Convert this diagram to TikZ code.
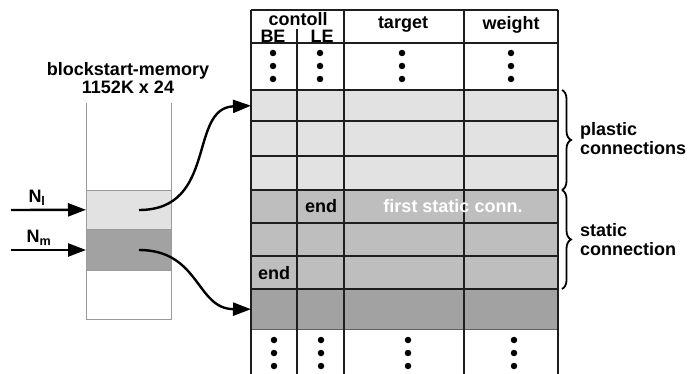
\documentclass[tikz,border=0pt]{standalone}
\usepackage{fontspec}
\setmainfont{Liberation Sans}
\usetikzlibrary{arrows.meta,decorations.pathreplacing}
\definecolor{lightg}{HTML}{E2E2E2}
\definecolor{midg}{HTML}{BEBEBE}
\definecolor{darkg}{HTML}{A2A2A2}
\definecolor{gridc}{HTML}{1E1E1E}
\definecolor{memline}{HTML}{9A9A9A}
\begin{document}
\begin{tikzpicture}[x=1pt,y=-1pt,
  font=\bfseries\fontsize{18}{19}\selectfont,
  rowbox/.style={minimum width=307pt, inner sep=0pt, anchor=north west, draw=none},
  grid/.style={draw=gridc, line width=1.6pt},
  memside/.style={draw=memline, line width=0.9pt},
  bigarrow/.style={line width=2.4pt, -{Triangle[length=18pt,width=13pt]}},
  dotc/.style={circle, fill=black, inner sep=0pt, minimum size=6.5pt},
  brc/.style={decorate, decoration={brace, amplitude=9pt}, line width=1.8pt},
  lbl/.style={inner sep=0pt}
]
\useasboundingbox (0,0) rectangle (695,374);
\fill[white] (0,0) rectangle (695,374);

% ---- table rows
\node[rowbox, fill=lightg, minimum height=31pt] (r1) at (251,90) {};
\node[rowbox, fill=lightg, minimum height=35pt] (r2) at (251,121) {};
\node[rowbox, fill=lightg, minimum height=34pt] (r3) at (251,156) {};
\node[rowbox, fill=midg, minimum height=33pt] (r4) at (251,190) {};
\node[rowbox, fill=midg, minimum height=33pt] (r5) at (251,223) {};
\node[rowbox, fill=midg, minimum height=33pt] (r6) at (251,256) {};
\node[rowbox, fill=darkg, minimum height=40pt] (r7) at (251,289) {};
\draw[draw=gridc!70, line width=0.8pt] (r7.south west) -- (r7.south east);

% ---- grid lines
\foreach \yy in {10,43,90,121,156,190,223,256,289}
  \draw[grid] (251,\yy) -- (558,\yy);
\foreach \xx in {251,344,464,558}
  \draw[grid] (\xx,10) -- (\xx,374);
\draw[grid] (297,29) -- (297,374);

% ---- header
\node[lbl] (hc) at (298,19) {contoll};
\node[lbl] (hbe) at (273,36) {BE};
\node[lbl] (hle) at (322,36) {LE};
\node[lbl] (ht) at (403,25) {target};
\node[lbl] (hw) at (511,25) {weight};

% ---- dots
\foreach \xx in {273,320,402,511}
  \foreach \yy in {53,66,79}
    \node[dotc] at (\xx,\yy) {};
\foreach \xx in {274,321,408,514}
  \foreach \yy in {340,353,366}
    \node[dotc] at (\xx,\yy) {};

% ---- cell texts
\node[lbl] (e1) at (321,206) {end};
\node[lbl] (e2) at (274,273) {end};
\node[lbl, text=white] (fs) at (453,206) {first static conn.};

% ---- memory
\node[lbl, align=center, font=\bfseries\fontsize{18}{18.5}\selectfont] (mt) at (128,78) {blockstart-memory\\1152K x 24};
\node[draw=memline, line width=0.6pt, fill=lightg, minimum width=85pt, minimum height=39pt, inner sep=0pt, anchor=north west] (bandl) at (86,190) {};
\node[draw=memline, line width=0.6pt, fill=darkg, minimum width=85pt, minimum height=41pt, inner sep=0pt, anchor=north west] (bandm) at (86,229) {};
\draw[memside] (86,103) -- (86,319) -- (171,319) -- (171,103);

% ---- input arrows
\coordinate (inl) at (11,210);
\coordinate (inm) at (11,250);
\draw[bigarrow] (inl) -- (bandl.west);
\draw[bigarrow] (inm) -- (bandm.west |- inm);
\node[lbl] (nl) at (37,198) {N\textsubscript{l}};
\node[lbl] (nm) at (39,238) {N\textsubscript{m}};

% ---- curved pointers
\coordinate (sl) at (139,210);
\coordinate (sm) at (139,250);
\draw[bigarrow] (sl) .. controls (218,210) and (188,108) .. (r1.west);
\draw[bigarrow] (sm) .. controls (200,250) and (196,309) .. (r7.west);

% ---- braces
\draw[brc] (562,90) -- (562,190);
\draw[brc] (562,190) -- (562,289);
\node[lbl, align=left, anchor=west] (lp) at (580,139) {plastic\\connections};
\node[lbl, align=left, anchor=west] (ls) at (580,240) {static\\connection};
\end{tikzpicture}
\end{document}
